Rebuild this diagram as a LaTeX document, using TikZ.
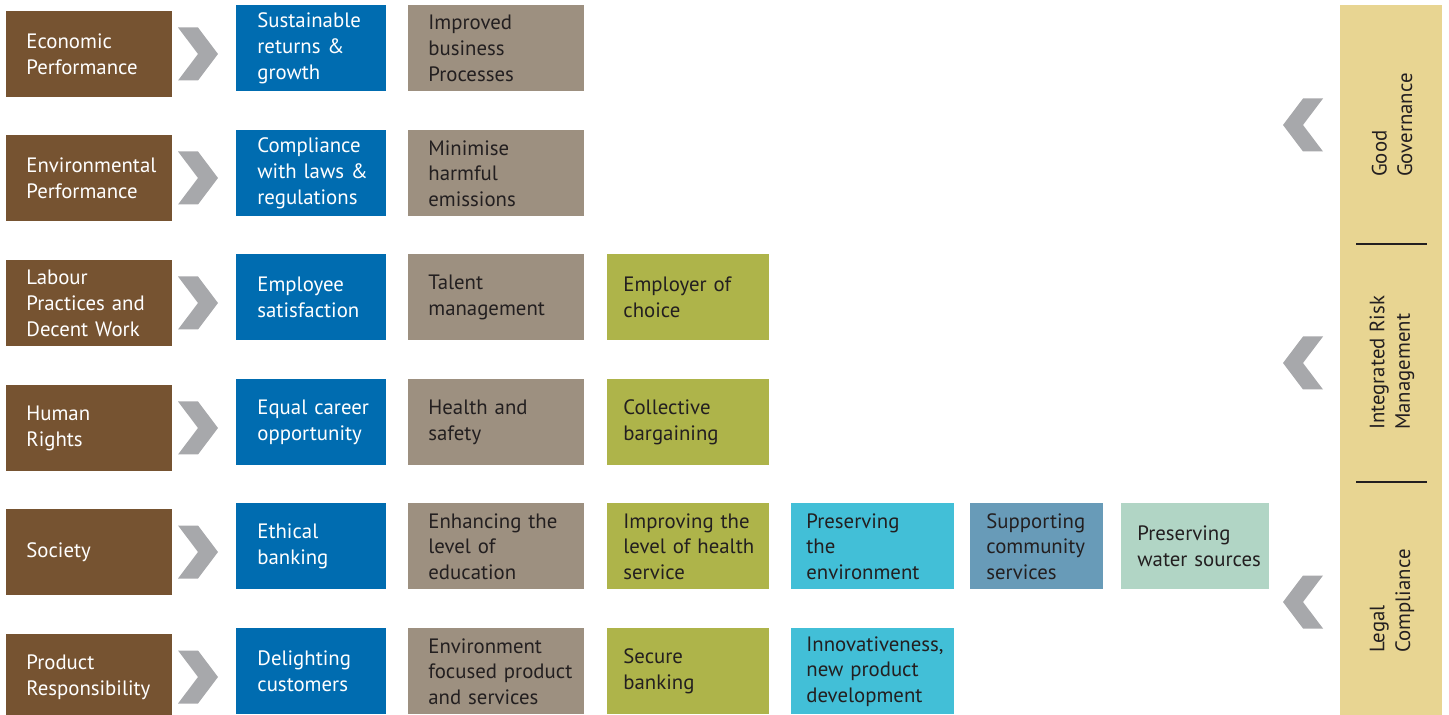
\documentclass[tikz,border=0pt]{standalone}
\usepackage{fontspec}
\setmainfont{PT Sans}
\hyphenpenalty=10000
\exhyphenpenalty=10000
\definecolor{areabrown}{HTML}{765331}
\definecolor{goalblue}{HTML}{006CB0}
\definecolor{taupe}{HTML}{9D9080}
\definecolor{olive}{HTML}{AEB44A}
\definecolor{aqua}{HTML}{42BFD7}
\definecolor{steel}{HTML}{689BB8}
\definecolor{mint}{HTML}{B1D5C5}
\definecolor{sand}{HTML}{E8D592}
\definecolor{chevgray}{HTML}{A7A8AB}
\definecolor{ink}{HTML}{231F20}
\tikzset{
  tile/.style={rectangle, anchor=north west, minimum height=43pt, inner ysep=0pt,
    align=left, text=ink, font=\fontsize{10.4}{12.8}\selectfont},
  areabox/.style={tile, fill=areabrown, text=white, minimum width=83pt, inner xsep=10pt, text width=63pt},
  goalbox/.style={tile, fill=goalblue, text=white, minimum width=75pt, inner xsep=10.5pt, text width=54pt},
  taupebox/.style={tile, fill=taupe, minimum width=88pt, inner xsep=10pt, text width=68pt},
  olivebox/.style={tile, fill=olive, minimum width=81pt, inner xsep=8pt, text width=65pt},
  aquabox/.style={tile, fill=aqua, minimum width=81.5pt, inner xsep=7.5pt, text width=66.5pt},
  steelbox/.style={tile, fill=steel, minimum width=66.5pt, inner xsep=8pt, text width=50.5pt},
  mintbox/.style={tile, fill=mint, minimum width=74pt, inner xsep=8pt, text width=58pt},
  pillar/.style={rotate=90, align=left, text=ink, inner sep=0pt, font=\fontsize{10.4}{12.8}\selectfont},
  chevright/.pic={\fill[chevgray] (-20,-26.5) -- (0,-26.5) -- (20,0) -- (0,26.5) -- (-20,26.5) -- (0,0) -- cycle;},
  chevleft/.pic={\fill[chevgray] (20,-26.5) -- (0,-26.5) -- (-20,0) -- (0,26.5) -- (20,26.5) -- (0,0) -- cycle;}
}
\begin{document}
\begin{tikzpicture}[x=0.5pt, y=-0.5pt]
    \useasboundingbox (0,0) rectangle (1449,715);
    % aspects
    \node[areabox] (econ) at (6,11) {Economic\\Performance};
    \node[areabox] (envi) at (6,135) {Environmental\\Performance};
    \node[areabox] (labr) at (6,260) {Labour\\Practices~and\\Decent~Work};
    \node[areabox] (humr) at (6,385) {Human\\Rights};
    \node[areabox] (soci) at (6,509) {Society};
    \node[areabox] (prod) at (6,634) {Product\\Responsibility};
    % chevrons
    \pic at (198,54) {chevright};
    \pic at (198,178) {chevright};
    \pic at (198,303) {chevright};
    \pic at (198,428) {chevright};
    \pic at (198,552) {chevright};
    \pic at (198,677) {chevright};
    % first column
    \node[goalbox] (econ1) at (236,5) {Sustainable\\returns~\&\\growth};
    \node[goalbox] (envi1) at (236,130) {Compliance\\with~laws~\&\\regulations};
    \node[goalbox] (labr1) at (236,254) {Employee\\satisfaction};
    \node[goalbox] (humr1) at (236,379) {Equal~career\\opportunity};
    \node[goalbox] (soci1) at (236,503) {Ethical\\banking};
    \node[goalbox] (prod1) at (236,628) {Delighting\\customers};
    % second column
    \node[taupebox] (econ2) at (408,5) {Improved\\business\\Processes};
    \node[taupebox] (envi2) at (408,130) {Minimise\\harmful\\emissions};
    \node[taupebox] (labr2) at (408,254) {Talent\\management};
    \node[taupebox] (humr2) at (408,379) {Health~and\\safety};
    \node[taupebox] (soci2) at (408,503) {Enhancing~the\\level~of\\education};
    \node[taupebox] (prod2) at (408,628) {Environment\\focused~product\\and~services};
    % third column
    \node[olivebox] (labr3) at (607,254) {Employer~of\\choice};
    \node[olivebox] (humr3) at (607,379) {Collective\\bargaining};
    \node[olivebox] (soci3) at (607,503) {Improving~the\\level~of~health\\service};
    \node[olivebox] (prod3) at (607,628) {Secure\\banking};
    % further columns
    \node[aquabox] (soci4) at (791,503) {Preserving\\the\\environment};
    \node[aquabox] (prod4) at (791,628) {Innovativeness,\\new~product\\development};
    \node[steelbox] (soci5) at (970,503) {Supporting\\community\\services};
    \node[mintbox] (soci6) at (1121,503) {Preserving\\water~sources};
    % pillars
    \fill[sand] (1340,5) rectangle (1442,715);
    \draw[ink, line width=0.6pt] (1356,244) -- (1427,244);
    \draw[ink, line width=0.6pt] (1356,482) -- (1427,482);
    \node[pillar] (gov) at (1392,125) {Good\\Governance};
    \node[pillar] (risk) at (1392,363) {Integrated Risk\\Management};
    \node[pillar] (legal) at (1392,601) {Legal\\Compliance};
    \pic at (1303,125) {chevleft};
    \pic at (1303,363) {chevleft};
    \pic at (1303,602) {chevleft};
\end{tikzpicture}
\end{document}
